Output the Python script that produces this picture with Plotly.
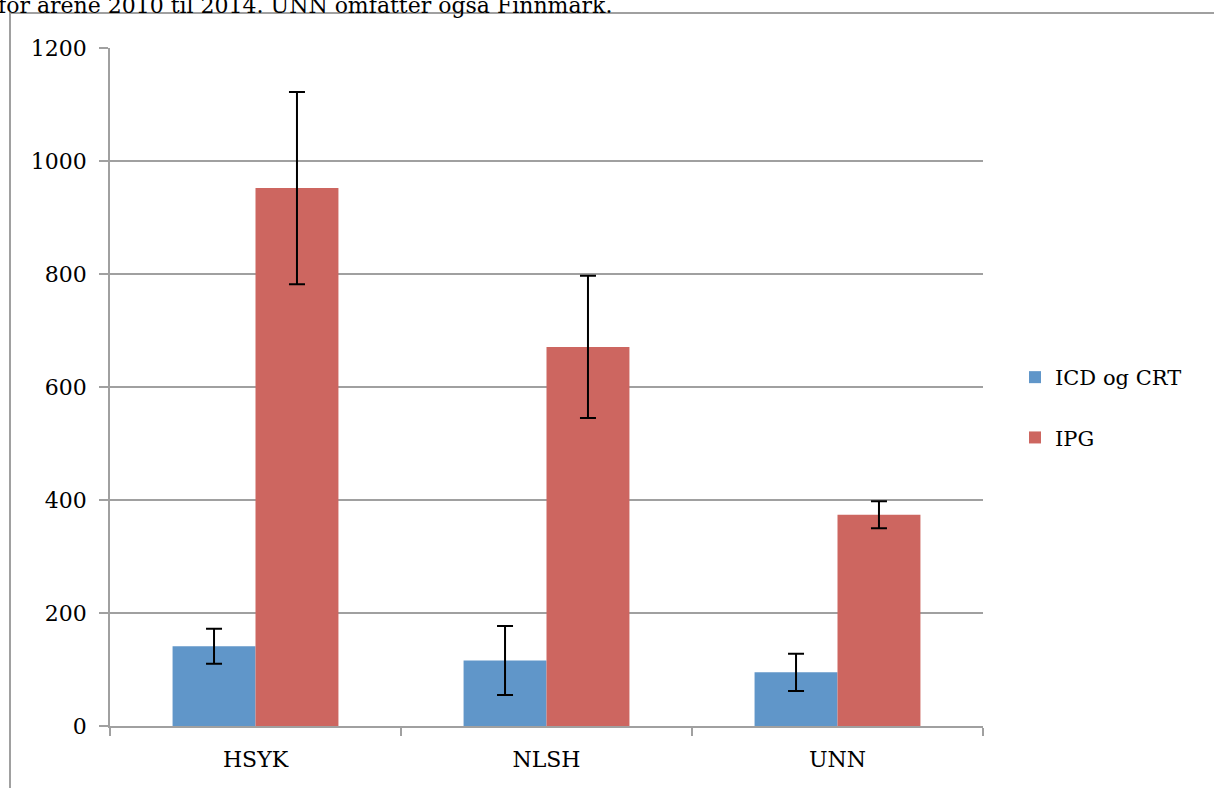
import plotly.graph_objects as go

categories = ["HSYK", "NLSH", "UNN"]
icd_values = [141, 116, 95]
icd_errors = [31, 61, 33]
ipg_values = [952, 671, 374]
ipg_errors = [170, 126, 24]
y_ticks = [0, 200, 400, 600, 800, 1000, 1200]
caption = "for årene 2010 til 2014. UNN omfatter også Finnmark."

FONT = "DejaVu Serif"

fig = go.Figure()
fig.add_trace(go.Bar(
    x=categories, y=icd_values, name="ICD og CRT",
    marker=dict(color="#6096C9", line=dict(width=0)),
    error_y=dict(type="data", array=icd_errors, visible=True,
                 color="black", thickness=2, width=8),
    legendgroup="a",
))
fig.add_trace(go.Bar(
    x=categories, y=ipg_values, name="IPG",
    marker=dict(color="#CD6660", line=dict(width=0)),
    error_y=dict(type="data", array=ipg_errors, visible=True,
                 color="black", thickness=2, width=8),
    legendgroup="b",
))

L, R, T, B = 110, 231, 48, 62
W, H = 1214, 788
pw, ph = W - L - R, H - T - B

def px_x(p):
    return (p - L) / pw

def px_y(p):
    return (H - B - p) / ph

fig.update_layout(
    width=W, height=H,
    margin=dict(l=L, r=R, t=T, b=B, pad=0),
    paper_bgcolor="white", plot_bgcolor="white",
    barmode="group", bargap=0.43, bargroupgap=0,
    font=dict(family=FONT, size=20, color="black"),
    showlegend=True,
    legend=dict(
        x=px_x(1015), y=px_y(357), xanchor="left", yanchor="top",
        font=dict(family=FONT, size=21, color="black"),
        tracegroupgap=30, traceorder="grouped",
        itemwidth=30, bgcolor="rgba(0,0,0,0)",
    ),
    xaxis=dict(
        showgrid=False, showline=True, linecolor="#A0A0A0", linewidth=1.5,
        ticks="outside", tickson="boundaries", ticklen=8, tickcolor="#A0A0A0",
        tickwidth=1.5, tickfont=dict(family=FONT, size=22, color="black"),
        ticklabelstandoff=13,
    ),
    yaxis=dict(
        range=[0, 1200], tickvals=y_ticks, showgrid=True,
        gridcolor="#A0A0A0", gridwidth=1.5, showline=True,
        linecolor="#A0A0A0", linewidth=1.5, ticks="outside", ticklen=9,
        tickcolor="#A0A0A0", tickwidth=1.5, zeroline=False,
        tickfont=dict(family=FONT, size=22, color="black"),
        ticklabelstandoff=8,
    ),
    shapes=[dict(
        type="rect", xref="paper", yref="paper",
        x0=px_x(10), x1=px_x(1300), y0=px_y(900), y1=px_y(13),
        line=dict(color="#A0A0A0", width=2), fillcolor="rgba(0,0,0,0)",
        layer="below",
    )],
    annotations=[dict(
        text=caption, xref="paper", yref="paper",
        x=px_x(-3), y=px_y(19), xanchor="left", yanchor="bottom",
        showarrow=False, borderpad=0,
        font=dict(family=FONT, size=22, color="black"),
    )],
)

fig.write_html("out.html", config={"displayModeBar": False},
               post_script="document.body.style.margin='0';")
